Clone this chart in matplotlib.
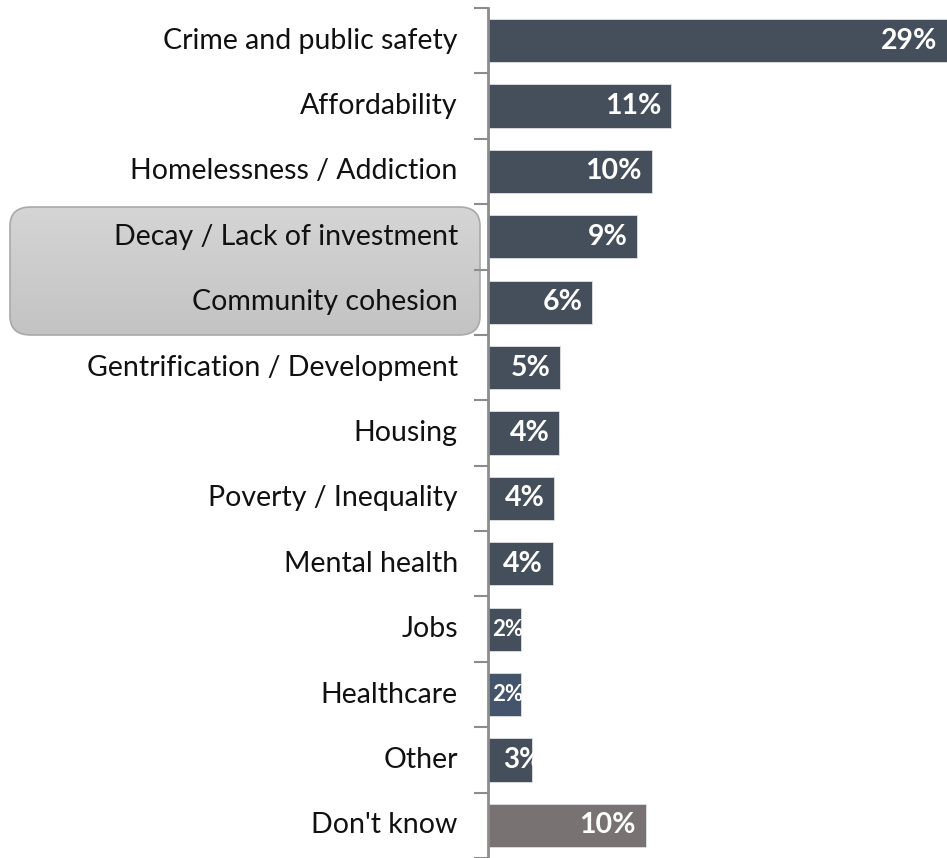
import numpy as np
import matplotlib.pyplot as plt
from matplotlib.colors import LinearSegmentedColormap
from matplotlib.patches import FancyBboxPatch

plt.rcParams['font.family'] = ['Lato', 'DejaVu Sans']

categories = ["Crime and public safety", "Affordability", "Homelessness / Addiction",
              "Decay / Lack of investment", "Community cohesion",
              "Gentrification / Development", "Housing", "Poverty / Inequality",
              "Mental health", "Jobs", "Healthcare", "Other", "Don't know"]
values = [29.0, 11.15, 9.94, 9.09, 6.36, 4.42, 4.36, 4.06, 3.94, 2.0, 2.0, 2.67, 9.58]
labels = ["29%", "11%", "10%", "9%", "6%", "5%", "4%", "4%", "4%", "2%", "2%", "3%", "10%"]
colors = ["#454f5b"] * 10 + ["#44546a", "#454f5b", "#787372"]

W, H = 947, 858
fig = plt.figure(figsize=(W / 100, H / 100), dpi=100)
ax = fig.add_axes([487.5 / W, 0, 1 - 487.5 / W, 1 - 8 / H])

y = np.arange(len(categories))
bars = ax.barh(y, values, height=0.66, color=colors, edgecolor="#dde0e4", linewidth=0.6)
ax.set_ylim(len(categories) - 0.5, -0.5)
ax.set_xlim(0, (W - 487.5) / 16.5)

for b, v, lab in zip(bars, values, labels):
    yc = b.get_y() + b.get_height() / 2
    if v < 3:
        t = ax.text(v - 1.72, yc, lab, ha="left", va="center", color="white",
                    fontweight="bold", fontsize=16 if lab == "2%" else 20)
    else:
        right = min(v, ax.get_xlim()[1]) - 0.6
        t = ax.text(right, yc, lab, ha="right", va="center", color="white",
                    fontweight="bold", fontsize=20.5)
    t.set_clip_path(b)

# category labels and boundary ticks
ax.set_yticks([])
ax.set_yticks(np.arange(len(categories) + 1) - 0.5, minor=True)
ax.tick_params(axis="y", which="minor", length=10, width=1.5, color="#8c8c8c", direction="out")
ax.set_xticks([])
for yi, c in zip(y, categories):
    ax.text(-1.8, yi, c, ha="right", va="center", fontsize=20.5, color="#111111",
            clip_on=False, zorder=5)

for s in ["top", "right", "bottom"]:
    ax.spines[s].set_visible(False)
ax.spines["left"].set_color("#8c8c8c")
ax.spines["left"].set_linewidth(2)

# highlight box behind two categories
x0, y0, x1, y1 = 10, H - 335, 480, H - 207
gax = fig.add_axes([0, 0, 1, 1], zorder=-1)
gax.set_xlim(0, 1)
gax.set_ylim(0, 1)
gax.axis("off")
cmap = LinearSegmentedColormap.from_list("g", ["#d5d5d5", "#c3c3c3"])
img = gax.imshow(np.linspace(0, 1, 100).reshape(-1, 1), extent=[x0 / W, x1 / W, y0 / H, y1 / H],
                 aspect="auto", cmap=cmap, origin="upper")
box = FancyBboxPatch((x0 / W, y0 / H), (x1 - x0) / W, (y1 - y0) / H,
                     boxstyle="round,pad=0,rounding_size=0.022",
                     facecolor="none", edgecolor="#a9a9a9", linewidth=1.2)
gax.add_patch(box)
img.set_clip_path(box)

fig.savefig("out.png", dpi=100)
